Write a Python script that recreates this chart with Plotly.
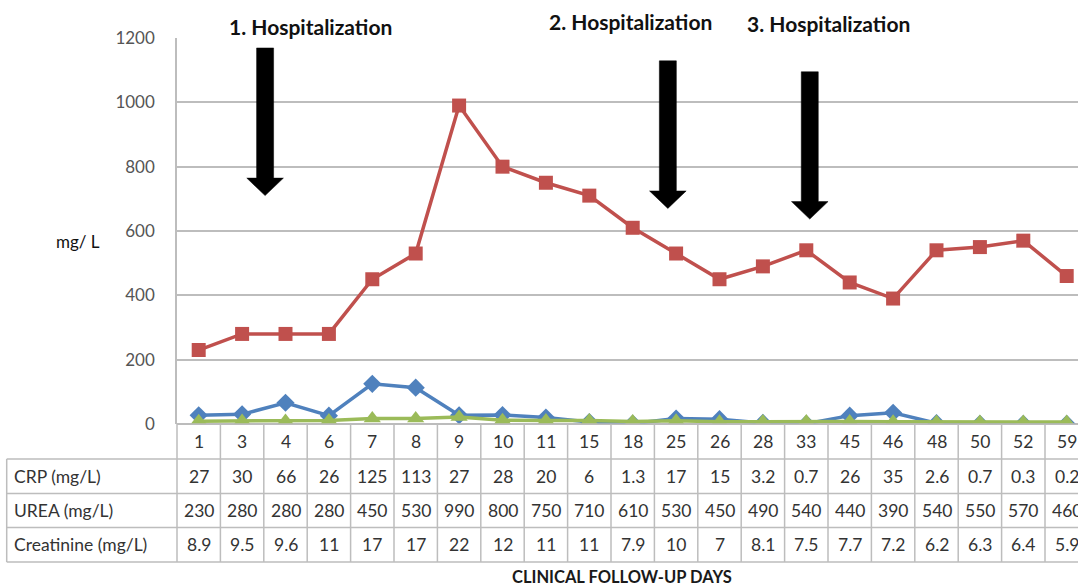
import plotly.graph_objects as go

# Follow-up days and laboratory values
days = [1, 3, 4, 6, 7, 8, 9, 10, 11, 15, 18, 25, 26, 28, 33, 45, 46, 48, 50, 52, 59]
crp = [27, 30, 66, 26, 125, 113, 27, 28, 20, 6, 1.3, 17, 15, 3.2, 0.7, 26, 35, 2.6, 0.7, 0.3, 0.2]
urea = [230, 280, 280, 280, 450, 530, 990, 800, 750, 710, 610, 530, 450, 490, 540, 440, 390, 540, 550, 570, 460]
creatinine = [8.9, 9.5, 9.6, 11, 17, 17, 22, 12, 11, 11, 7.9, 10, 7, 8.1, 7.5, 7.7, 7.2, 6.2, 6.3, 6.4, 5.9]
row_labels = ["CRP (mg/L)", "UREA (mg/L)", "Creatinine (mg/L)"]
y_ticks = [0, 200, 400, 600, 800, 1000, 1200]

# Hospitalization markers: (label, x position in day-index units, arrow top, arrow tip) in mg/L
hospitalizations = [
    ("1. Hospitalization", 1.53, 1169, 710),
    ("2. Hospitalization", 10.81, 1129, 670),
    ("3. Hospitalization", 14.08, 1095, 637),
]

# ---- geometry ----
W, H = 1078, 588
L, T = 177, 38
PLOT_BOTTOM = 424
COL_W = 43.4
PW = W - L
PH = PLOT_BOTTOM - T
X0 = -0.5
X1 = X0 + PW / COL_W

FONT = "Lato"
GRID = "#BDBDBD"
TXT = "#333333"

RED = "#C0504D"
BLUE = "#4F81BD"
GREEN = "#9BBB59"


def paper_x_from_data(v):
    return (v - X0) / (X1 - X0)


def paper_x(px):
    return (px - L) / PW


def paper_y(py):
    return (PLOT_BOTTOM - py) / PH


idx = list(range(len(days)))

fig = go.Figure()
fig.add_trace(go.Scatter(
    x=idx, y=crp, mode="lines+markers", name="CRP",
    line=dict(color=BLUE, width=3.5),
    marker=dict(symbol="diamond", size=14, color=BLUE),
))
fig.add_trace(go.Scatter(
    x=idx, y=urea, mode="lines+markers", name="UREA",
    line=dict(color=RED, width=3.5),
    marker=dict(symbol="square", size=14, color=RED),
))
fig.add_trace(go.Scatter(
    x=idx, y=creatinine, mode="lines+markers", name="Creatinine",
    line=dict(color=GREEN, width=3.5),
    marker=dict(symbol="triangle-up", size=15, color=GREEN),
))

shapes = []
annotations = []


def label(x, y, text, size, color, xref="paper", xanchor="center"):
    annotations.append(dict(x=x, xref=xref, y=y, yref="paper",
                            xanchor=xanchor, yanchor="middle",
                            text=text, showarrow=False,
                            font=dict(family=FONT, size=size, color=color)))


# ---- data table below the plot ----
row_edges = [424, 459, 493.5, 527.5, 562]  # pixel rows: day row + 3 value rows
table_left = 6.7

# horizontal lines
for i, ry in enumerate(row_edges):
    x_start = paper_x(L) if i == 0 else paper_x(table_left)
    shapes.append(dict(type="line", xref="paper", yref="paper",
                       x0=x_start, x1=1.02, y0=paper_y(ry), y1=paper_y(ry),
                       line=dict(color=GRID, width=1.5)))
# outer left border of label column
shapes.append(dict(type="line", xref="paper", yref="paper",
                   x0=paper_x(table_left), x1=paper_x(table_left),
                   y0=paper_y(row_edges[1]), y1=paper_y(row_edges[-1]),
                   line=dict(color=GRID, width=1.5)))
# column separators
for k in range(len(days) + 1):
    xp = paper_x_from_data(k - 0.5)
    if xp > 1.0:
        continue
    shapes.append(dict(type="line", xref="paper", yref="paper",
                       x0=xp, x1=xp, y0=paper_y(row_edges[0]), y1=paper_y(row_edges[-1]),
                       line=dict(color=GRID, width=1.5)))

row_centers = [(row_edges[i] + row_edges[i + 1]) / 2 for i in range(4)]

for i, d in enumerate(days):
    label(i, paper_y(row_centers[0]), str(d), 17.5, TXT, xref="x")
    for r, series in enumerate([crp, urea, creatinine]):
        label(i, paper_y(row_centers[r + 1]), f"{series[i]:g}", 17.5, TXT, xref="x")

for r, lab in enumerate(row_labels):
    label(paper_x(12), paper_y(row_centers[r + 1]), lab, 17.5, TXT, xanchor="left")

# axis titles
label(paper_x(78), paper_y(241), "mg/ L", 17, "#111111")
label(paper_x(622), paper_y(577), "<b>CLINICAL FOLLOW-UP DAYS</b>", 16.5, "#1a1a1a")

# ---- hospitalization arrows ----
label_pos = [(310, 27), (630, 21), (828, 23)]
shaft_half = 8.5 / COL_W
head_half = 18.3 / COL_W
head_len = 17.5 / (PH / 1200)  # in mg/L
for (lab, xc, ytop, ytip), (lx, ly) in zip(hospitalizations, label_pos):
    yhead = ytip + head_len
    path = (f"M {xc - shaft_half} {ytop} L {xc + shaft_half} {ytop} "
            f"L {xc + shaft_half} {yhead} L {xc + head_half} {yhead} "
            f"L {xc} {ytip} L {xc - head_half} {yhead} "
            f"L {xc - shaft_half} {yhead} Z")
    shapes.append(dict(type="path", xref="x", yref="y", path=path,
                       fillcolor="black", line=dict(color="black", width=0.5)))
    label(paper_x(lx), paper_y(ly), f"<b>{lab}</b>", 21, "#111111")

fig.update_layout(
    width=W, height=H,
    margin=dict(l=L, r=0, t=T, b=H - PLOT_BOTTOM, pad=0),
    paper_bgcolor="white", plot_bgcolor="white",
    showlegend=False,
    shapes=shapes,
    annotations=annotations,
    xaxis=dict(range=[X0, X1], showgrid=False, zeroline=False, showline=False,
               showticklabels=False, ticks=""),
    yaxis=dict(range=[0, 1200], tickvals=y_ticks, ticktext=[str(v) for v in y_ticks],
               showgrid=True, gridcolor=GRID, gridwidth=1.5,
               zeroline=True, zerolinecolor=GRID, zerolinewidth=1.5,
               showline=True, linecolor=GRID, linewidth=1.5,
               ticks="", ticklabelstandoff=17,
               tickfont=dict(family=FONT, size=17, color="#555555")),
)

fig.write_html("out.html")
